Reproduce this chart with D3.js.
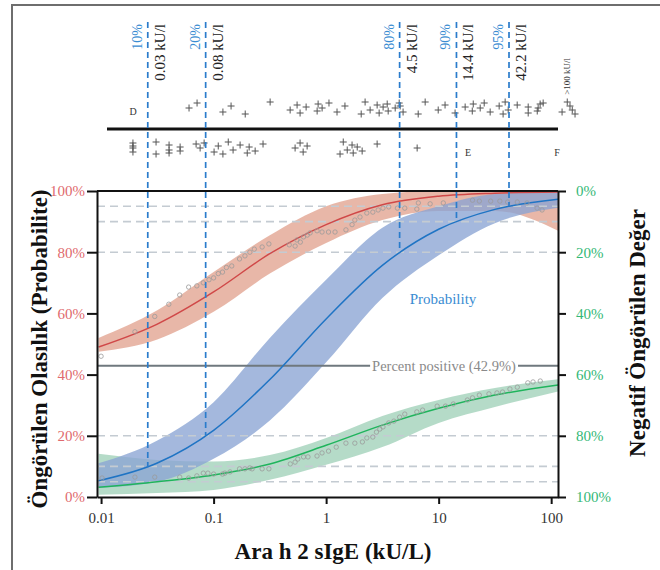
<!DOCTYPE html>
<html>
<head>
<meta charset="utf-8">
<script src="https://cdn.jsdelivr.net/npm/d3@7"></script>
<style>
  body { margin: 0; background: #fff; }
  svg, svg text { font-family: "Liberation Serif", "DejaVu Serif", serif; }
</style>
</head>
<body>
<svg id="chart" width="660" height="570"></svg>
<script>
// Ara h 2 sIgE values (kU/L) where the curves were read
const curveX = [0.0095, 0.0316, 0.1, 0.316, 1, 3.16, 10, 31.6, 115];

// Probability (blue), left axis, %
const probLine = [5.3, 11.1, 21.8, 38.4, 58.2, 75.7, 87.5, 94.0, 97.3];
const probLow  = [3, 5, 12.5, 25, 44, 65, 79, 89.5, 94.5];
const probHigh = [11, 18.5, 31, 52, 71, 88, 95, 99, 99.7];

// Positive predictive value (red), left axis, %
const ppvLine = [49, 56.5, 67, 79.5, 89, 95.5, 98.3, 99.3, 99.7];
const ppvLow  = [47.5, 51.5, 60.5, 73, 83, 90.5, 93.5, 93.5, 87];
const ppvHigh = [52, 61, 73.5, 85.5, 95, 99, 100, 100, 100];

// Negative predictive value (green), right axis, %
const npvLine = [96.8, 95.0, 92.8, 89.2, 83.1, 76.5, 71.0, 66.7, 63.4];
const npvLow  = [85.9, 87.9, 88.4, 86.3, 80.7, 73.5, 68.3, 64.4, 61.5];
const npvHigh = [99.3, 98.7, 97.7, 94.4, 89.5, 83.7, 75.8, 70.6, 65.5];

// observed points (x kU/L, %)
const ppvPoints = [
  [0.010, 46], [0.020, 54], [0.030, 59], [0.040, 63], [0.050, 66], [0.060, 68.6],
  [0.071, 69], [0.081, 70], [0.091, 71], [0.10, 71.6], [0.11, 73], [0.12, 73.5],
  [0.13, 75], [0.145, 75.5], [0.17, 77.8], [0.19, 78.8], [0.21, 80], [0.23, 81],
  [0.27, 81.7], [0.31, 82.7], [0.47, 82.4], [0.53, 82], [0.55, 84], [0.59, 83.3],
  [0.63, 85], [0.68, 85.6], [0.72, 86.3], [0.83, 87], [0.92, 86.6], [1.05, 86.6],
  [1.2, 86.6], [1.5, 87.3], [1.7, 89], [1.8, 90.5], [2.0, 91.5], [2.3, 92.8],
  [2.6, 93.1], [2.9, 93.8], [3.2, 94.4], [3.6, 94.8], [4.3, 94.4], [5.0, 94.4],
  [6.4, 94.1], [6.6, 96.1], [8.4, 95.8], [11, 96.1], [20, 97], [23, 96.7],
  [29, 96.7], [35, 96.7], [41, 96.4], [50, 96.4], [61, 96.1], [75, 94.4], [83, 93.8]
];
const npvPoints = [
  [0.0102, 93.8], [0.020, 93.5], [0.030, 93.5], [0.050, 93.5], [0.060, 93.8],
  [0.071, 93.1], [0.081, 92.2], [0.089, 92.2], [0.10, 92.5], [0.12, 92.5],
  [0.126, 92.2], [0.14, 91.8], [0.17, 90.8], [0.19, 90.8], [0.21, 90.5],
  [0.22, 90.8], [0.27, 90.8], [0.31, 90.8], [0.48, 89.2], [0.53, 88.6],
  [0.56, 87.6], [0.63, 86.9], [0.69, 86.9], [0.83, 86.6], [0.92, 85.6],
  [1.05, 85.0], [1.23, 83.7], [1.5, 82.4], [1.8, 82.4], [2.1, 82.0], [2.3, 80.7],
  [2.6, 80.4], [2.8, 78.8], [3.0, 77.8], [3.2, 77.1], [3.6, 75.8], [4.0, 75.2],
  [4.5, 73.9], [5.0, 72.9], [6.4, 72.2], [7.2, 71.6], [9.7, 70.3], [11.5, 70.3],
  [13.5, 69.6], [18, 68.3], [20, 67.6], [23, 66.7], [28, 66.3], [33, 66.0],
  [37, 65.7], [43, 64.7], [50, 64.1], [62, 62.7], [69, 62.4], [80, 62.1]
];

// individual results in the strip above the chart (kU/L)
const stripUpper = [
  0.0605, 0.0713, 0.121, 0.143, 0.191, 0.318, 0.479, 0.552, 0.587, 0.664, 0.832,
  0.849, 0.921, 1.06, 1.25, 1.47, 2.05, 2.22, 2.46, 2.84, 2.96, 3.21, 3.56, 3.49,
  4.11, 4.46, 4.83, 4.55, 6.58, 7.59, 9.91, 11.4, 14.0, 17.2, 19.9, 20.3, 23.4,
  25.4, 28.7, 34.5, 37.4, 39.0, 41.5, 49.9, 62.5, 62.5, 75.2, 79.8, 76.6, 84.9,
  125, 147, 163, 139, 154
];
const stripLower = [
  0.0192, 0.0192, 0.0192, 0.0192, 0.0308, 0.0308, 0.0402, 0.0402, 0.0402, 0.0504,
  0.0504, 0.0699, 0.0759, 0.0824, 0.101, 0.110, 0.121, 0.135, 0.149, 0.172, 0.199,
  0.207, 0.234, 0.275, 0.530, 0.587, 0.625, 0.678, 1.33, 1.42, 1.54, 1.70, 1.74,
  1.89, 2.09, 2.84, 6.44
];

// cut-offs shown by the blue dashed lines
const cutoffValue = [0.026, 0.085, 4.5, 14.4, 42.2];
const cutoffLabel = ['0.03 kU/l', '0.08 kU/l', '4.5 kU/l', '14.4 kU/l', '42.2 kU/l'];
const cutoffProb = [10, 20, 80, 90, 95];
const gridLevels = [5, 10, 20, 80, 90, 95];
const percentPositive = 42.9;

const xTicks = [0.01, 0.1, 1, 10, 100];
const yTicks = [0, 20, 40, 60, 80, 100];

const svg = d3.select('#chart');
const plot = {left: 97, right: 558, top: 191, bottom: 497};

const x = d3.scaleLog().domain([0.0092, 115]).range([plot.left, plot.right]);
const yLeft = d3.scaleLinear().domain([0, 100]).range([plot.bottom, plot.top]);
const yRight = d3.scaleLinear().domain([0, 100]).range([plot.top, plot.bottom]);

const serif = '"Liberation Serif", "DejaVu Serif", serif';

// outer frame (top and left)
svg.append('path')
  .attr('d', 'M12,570V5H660')
  .attr('fill', 'none')
  .attr('stroke', '#6e6e6e')
  .attr('stroke-width', 2);

// bands
function band(lo, hi, scale) {
  return curveX.map((v, i) => ({x: v, lo: lo[i], hi: hi[i], s: scale}));
}
const area = d3.area()
  .x(d => x(d.x))
  .y0(d => d.s(d.lo))
  .y1(d => d.s(d.hi))
  .curve(d3.curveMonotoneX);

svg.append('path').datum(band(ppvLow, ppvHigh, yLeft))
  .attr('d', area).attr('fill', '#e2a592').attr('opacity', 0.8);
svg.append('path').datum(band(npvLow, npvHigh, yRight))
  .attr('d', area).attr('fill', '#a3d2ba').attr('opacity', 0.8);
svg.append('path').datum(band(probLow, probHigh, yLeft))
  .attr('d', area).attr('fill', '#8aa4d4').attr('opacity', 0.78);

// horizontal reference levels
svg.append('g').selectAll('line')
  .data(gridLevels)
  .enter()
  .append('line')
  .attr('x1', plot.left)
  .attr('x2', plot.right)
  .attr('y1', d => yLeft(d))
  .attr('y2', d => yLeft(d))
  .attr('stroke', '#c4cbd2')
  .attr('stroke-width', 1.6)
  .attr('stroke-dasharray', '8,5');

// percent positive line with its label
const ppY = yLeft(percentPositive);
svg.append('line')
  .attr('x1', plot.left).attr('x2', plot.right)
  .attr('y1', ppY).attr('y2', ppY)
  .attr('stroke', '#6f787e')
  .attr('stroke-width', 2);
const ppText = svg.append('text')
  .attr('x', 444)
  .attr('y', ppY + 5)
  .attr('text-anchor', 'middle')
  .style('font-family', serif)
  .style('font-size', '14.5px')
  .style('fill', '#8a8a8a')
  .text(`Percent positive (${percentPositive}%)`);
const bb = ppText.node().getBBox();
svg.insert('rect', 'text')
  .attr('x', bb.x - 2).attr('y', ppY - 3)
  .attr('width', bb.width + 4).attr('height', 6)
  .attr('fill', '#fff');

// curves
function series(vals, scale) {
  return curveX.map((v, i) => [x(v), scale(vals[i])]);
}
const line = d3.line().curve(d3.curveMonotoneX);
svg.append('path').attr('d', line(series(ppvLine, yLeft)))
  .attr('fill', 'none').attr('stroke', '#d04848').attr('stroke-width', 1.5);
svg.append('path').attr('d', line(series(npvLine, yRight)))
  .attr('fill', 'none').attr('stroke', '#1fb45c').attr('stroke-width', 1.5);
svg.append('path').attr('d', line(series(probLine, yLeft)))
  .attr('fill', 'none').attr('stroke', '#1f74c4').attr('stroke-width', 1.5);

// observed points
svg.append('g').selectAll('circle')
  .data(ppvPoints.map(p => [x(p[0]), yLeft(p[1])])
    .concat(npvPoints.map(p => [x(p[0]), yRight(p[1])])))
  .enter()
  .append('circle')
  .attr('cx', d => d[0])
  .attr('cy', d => d[1])
  .attr('r', 2.2)
  .attr('fill', 'none')
  .attr('stroke', '#9a9a9a')
  .attr('stroke-width', 0.8);

svg.append('text')
  .attr('x', 443).attr('y', 304)
  .attr('text-anchor', 'middle')
  .style('font-family', serif)
  .style('font-size', '15px')
  .style('fill', '#3a8cd2')
  .text('Probability');

// strip of individual results
svg.append('line')
  .attr('x1', 107).attr('x2', plot.right)
  .attr('y1', 129).attr('y2', 129)
  .attr('stroke', '#111')
  .attr('stroke-width', 3);

const jitter = [0, -5, 4, -2, 6, -6, 2, -3, 5, -1, 3, -4];
const plus = 'M-3.5,0H3.5M0,-3.5V3.5';
function drawStrip(vals, cy) {
  svg.append('g').selectAll('path')
    .data(vals)
    .enter()
    .append('path')
    .attr('d', plus)
    .attr('transform', (d, i) => `translate(${x(d)},${cy + jitter[i % jitter.length]})`)
    .attr('stroke', '#555')
    .attr('stroke-width', 1)
    .attr('fill', 'none');
}
drawStrip(stripUpper, 108);
drawStrip(stripLower, 148);

[['D', 133, 115], ['E', 468, 156], ['F', 557, 156]].forEach(t => {
  svg.append('text')
    .attr('x', t[1]).attr('y', t[2])
    .attr('text-anchor', 'middle')
    .style('font-family', serif)
    .style('font-size', '10px')
    .style('fill', '#333')
    .text(t[0]);
});
svg.append('text')
  .attr('transform', 'translate(570,58) rotate(-90)')
  .attr('text-anchor', 'end')
  .style('font-family', serif)
  .style('font-size', '9px')
  .style('fill', '#333')
  .text('>100 kU/l');

// cut-off lines and labels
cutoffValue.forEach((v, i) => {
  const px = x(v);
  svg.append('line')
    .attr('x1', px).attr('x2', px)
    .attr('y1', 22).attr('y2', yLeft(cutoffProb[i]))
    .attr('stroke', '#2a7ccc')
    .attr('stroke-width', 1.7)
    .attr('stroke-dasharray', '6,4');
  svg.append('text')
    .attr('transform', `translate(${px - 6},24) rotate(-90)`)
    .attr('text-anchor', 'end')
    .style('font-family', serif)
    .style('font-size', '14px')
    .style('fill', '#3a8cd2')
    .text(cutoffProb[i] + '%');
  svg.append('text')
    .attr('transform', `translate(${px + 17},24) rotate(-90)`)
    .attr('text-anchor', 'end')
    .style('font-family', serif)
    .style('font-size', '15px')
    .style('fill', '#222')
    .text(cutoffLabel[i]);
});

// axes
function styleAxis(g, color) {
  g.attr('font-family', null).attr('font-size', null);
  g.select('.domain').attr('stroke', '#111').attr('stroke-width', 2);
  g.selectAll('.tick line').attr('stroke', '#111').attr('stroke-width', 2);
  g.selectAll('.tick text')
    .style('font-family', serif)
    .style('font-size', '15px')
    .attr('fill', color);
}

svg.append('line')
  .attr('x1', plot.left).attr('x2', plot.right)
  .attr('y1', plot.top).attr('y2', plot.top)
  .attr('stroke', '#111').attr('stroke-width', 2);

svg.append('g')
  .attr('transform', `translate(0,${plot.bottom})`)
  .call(d3.axisBottom(x).tickValues(xTicks).tickFormat(d => d).tickSize(7).tickPadding(8).tickSizeOuter(0))
  .call(g => styleAxis(g, '#333'));

svg.append('g')
  .attr('transform', `translate(${plot.left},0)`)
  .call(d3.axisLeft(yLeft).tickValues(yTicks).tickFormat(d => d + '%').tickSize(10).tickPadding(2).tickSizeOuter(0))
  .call(g => styleAxis(g, '#e06a6e'));

svg.append('g')
  .attr('transform', `translate(${plot.right},0)`)
  .call(d3.axisRight(yRight).tickValues(yTicks).tickFormat(d => d + '%').tickSize(8).tickPadding(10).tickSizeOuter(0))
  .call(g => styleAxis(g, '#33b876'));

// titles
function title(tr, txt) {
  svg.append('text')
    .attr('transform', tr)
    .attr('text-anchor', 'middle')
    .attr('dominant-baseline', 'central')
    .style('font-family', serif)
    .style('font-size', '23px')
    .style('font-weight', 'bold')
    .style('fill', '#111')
    .text(txt);
}
title('translate(39,349) rotate(-90)', 'Öngörülen Olasılık (Probabilite)');
title('translate(637,333) rotate(-90)', 'Negatif Öngörülen Değer');
title('translate(333,551)', 'Ara h 2 sIgE (kU/L)');
</script>
</body>
</html>
